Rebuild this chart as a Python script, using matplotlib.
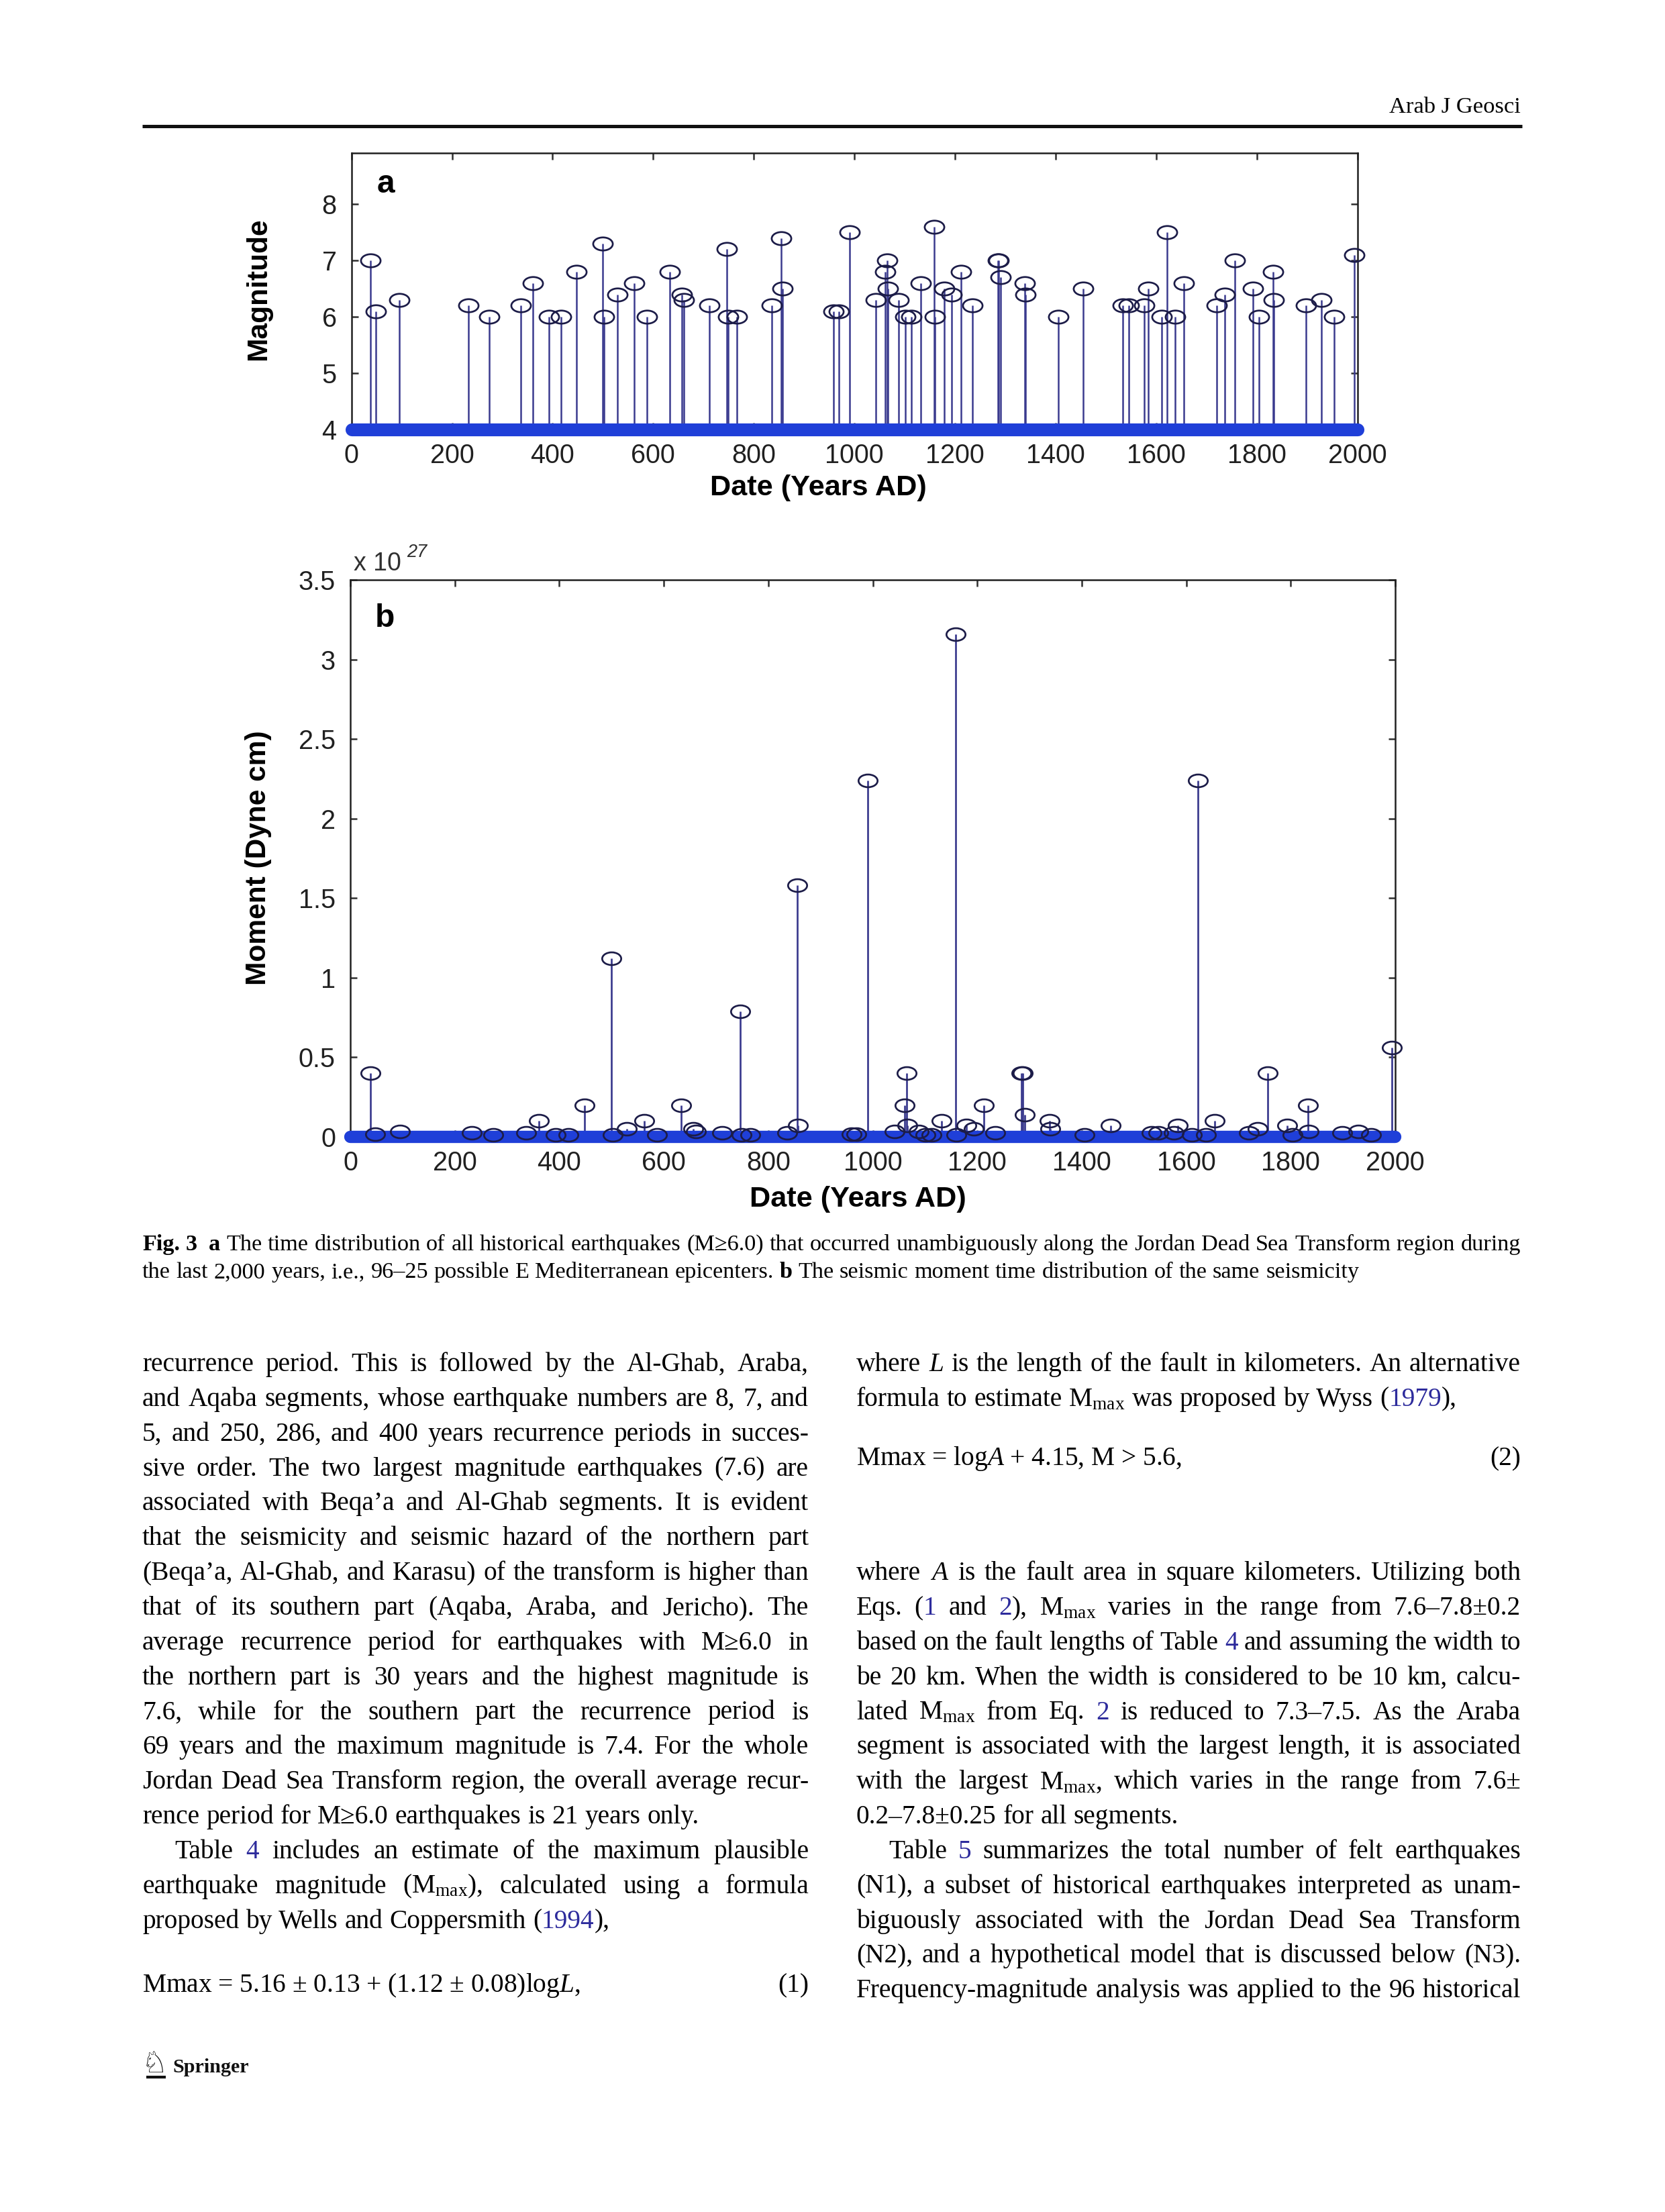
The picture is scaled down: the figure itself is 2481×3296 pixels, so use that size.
import re
import numpy as np
import matplotlib
matplotlib.use('Agg')
import matplotlib.pyplot as plt
from matplotlib.path import Path
from matplotlib.transforms import Affine2D
from matplotlib.lines import Line2D

# ------------------------------------------------------------------ data
# panel a: year of event and its magnitude
event_years = [38, 48, 95, 233, 274, 337, 361, 393, 417, 448, 500, 502, 529, 562,
               587, 633, 657, 661, 712, 746, 749, 766, 836, 855, 857, 959, 969,
               991, 1042, 1061, 1065, 1066, 1088, 1101, 1113, 1132, 1159, 1160,
               1179, 1193, 1212, 1234, 1285, 1287, 1291, 1339, 1340, 1405, 1455,
               1534, 1546, 1576, 1584, 1611, 1622, 1638, 1655, 1720, 1737, 1756,
               1793, 1804, 1833, 1834, 1898, 1929, 1954, 1994]
event_mags = [7.0, 6.1, 6.3, 6.2, 6.0, 6.2, 6.6, 6.0, 6.0, 6.8, 7.3, 6.0, 6.4, 6.6,
              6.0, 6.8, 6.4, 6.3, 6.2, 7.2, 6.0, 6.0, 6.2, 7.4, 6.5, 6.1, 6.1,
              7.5, 6.3, 6.8, 7.0, 6.5, 6.3, 6.0, 6.0, 6.6, 7.6, 6.0,
              6.5, 6.4, 6.8, 6.2, 7.0, 7.0, 6.7, 6.6, 6.4, 6.0, 6.5,
              6.2, 6.2, 6.2, 6.5, 6.0, 7.5, 6.0, 6.6, 6.2, 6.4, 7.0,
              6.5, 6.0, 6.8, 6.3, 6.2, 6.3, 6.0, 7.1]
# panel b: seismic moment of the same events (x 10^27 dyne cm)
event_moments = [0.40, 0.018, 0.035, 0.025, 0.013, 0.025, 0.10, 0.013, 0.013, 0.20, 1.12, 0.013, 0.05, 0.10,
                 0.013, 0.20, 0.05, 0.035, 0.025, 0.79, 0.013, 0.013, 0.025, 1.58, 0.07, 0.018, 0.018,
                 2.24, 0.035, 0.20, 0.40, 0.07, 0.035, 0.013, 0.013, 0.10, 3.16, 0.013,
                 0.07, 0.05, 0.20, 0.025, 0.40, 0.40, 0.14, 0.10, 0.05, 0.013, 0.07,
                 0.025, 0.025, 0.025, 0.07, 0.013, 2.24, 0.013, 0.10, 0.025, 0.05, 0.40,
                 0.07, 0.013, 0.20, 0.035, 0.025, 0.035, 0.013, 0.56]
record_span = [0, 2000]
x_ticks = [0, 200, 400, 600, 800, 1000, 1200, 1400, 1600, 1800, 2000]
a_yticks = [4, 5, 6, 7, 8]
a_ylim = [4, 8.91]
b_yticks = [0, 0.5, 1, 1.5, 2, 2.5, 3, 3.5]
b_yticklabels = ['0', '0.5', '1', '1.5', '2', '2.5', '3', '3.5']
b_ylim = [0, 3.5]

header_text = "Arab J Geosci"
caption_lines = [
    "{b:Fig.} {b:3}  {b:a} The time distribution of all historical earthquakes (M≥6.0) that occurred unambiguously along the Jordan Dead Sea Transform region during",
    "the last 2,000 years, i.e., 96–25 possible E Mediterranean epicenters. {b:b} The seismic moment time distribution of the same seismicity",
]
MM = r"$\mathrm{M}_{\mathrm{max}}$"
left_col = [
    ("recurrence period. This is followed by the Al-Ghab, Araba,", True, False),
    ("and Aqaba segments, whose earthquake numbers are 8, 7, and", True, False),
    ("5, and 250, 286, and 400 years recurrence periods in succes-", True, False),
    ("sive order. The two largest magnitude earthquakes (7.6) are", True, False),
    ("associated with Beqa’a and Al-Ghab segments. It is evident", True, False),
    ("that the seismicity and seismic hazard of the northern part", True, False),
    ("(Beqa’a, Al-Ghab, and Karasu) of the transform is higher than", True, False),
    ("that of its southern part (Aqaba, Araba, and Jericho). The", True, False),
    ("average recurrence period for earthquakes with M≥6.0 in", True, False),
    ("the northern part is 30 years and the highest magnitude is", True, False),
    ("7.6, while for the southern part the recurrence period is", True, False),
    ("69 years and the maximum magnitude is 7.4. For the whole", True, False),
    ("Jordan Dead Sea Transform region, the overall average recur-", True, False),
    ("rence period for M≥6.0 earthquakes is 21 years only.", False, False),
    ("Table {c:4} includes an estimate of the maximum plausible", True, True),
    ("earthquake magnitude (" + MM + "), calculated using a formula", True, False),
    ("proposed by Wells and Coppersmith ({c:1994}),", False, False),
]
right_col_top = [
    ("where $L$ is the length of the fault in kilometers. An alternative", True, False),
    ("formula to estimate " + MM + " was proposed by Wyss ({c:1979}),", False, False),
]
right_col_bottom = [
    ("where $A$ is the fault area in square kilometers. Utilizing both", True, False),
    ("Eqs. ({c:1} and {c:2}), " + MM + " varies in the range from 7.6–7.8±0.2", True, False),
    ("based on the fault lengths of Table {c:4} and assuming the width to", True, False),
    ("be 20 km. When the width is considered to be 10 km, calcu-", True, False),
    ("lated " + MM + " from Eq. {c:2} is reduced to 7.3–7.5. As the Araba", True, False),
    ("segment is associated with the largest length, it is associated", True, False),
    ("with the largest " + MM + ", which varies in the range from 7.6±", True, False),
    ("0.2–7.8±0.25 for all segments.", False, False),
    ("Table {c:5} summarizes the total number of felt earthquakes", True, True),
    ("(N1), a subset of historical earthquakes interpreted as unam-", True, False),
    ("biguously associated with the Jordan Dead Sea Transform", True, False),
    ("(N2), and a hypothetical model that is discussed below (N3).", True, False),
    ("Frequency-magnitude analysis was applied to the 96 historical", True, False),
]
eq1 = ("Mmax = 5.16 ± 0.13 + (1.12 ± 0.08)log$L$,", "(1)")
eq2 = ("Mmax = log$A$ + 4.15, M > 5.6,", "(2)")

# ------------------------------------------------------------------ style
W, H = 2481, 3296
DPI = 300
STEM = '#3a3a8e'
BAND = '#1f3fd8'
MK = '#1c1c48'
LINK = '#2d2b9c'
SERIF = 'Liberation Serif'
SANS = 'Liberation Sans'

plt.rcParams['mathtext.fontset'] = 'custom'
plt.rcParams['mathtext.rm'] = 'Liberation Serif'
plt.rcParams['mathtext.it'] = 'Liberation Serif:italic'
plt.rcParams['mathtext.bf'] = 'Liberation Serif:bold'

fig = plt.figure(figsize=(W / DPI, H / DPI), dpi=DPI)
fig.patch.set_facecolor('white')
renderer = fig.canvas.get_renderer()


def fx(x):
    return x / W


def fy(y):
    return 1 - y / H


def style_kw(st):
    if st == 'b':
        return {'weight': 'bold', 'color': 'black'}
    if st == 'c':
        return {'color': LINK}
    return {'color': 'black'}


def measure(s, size, family, st='n'):
    if not s:
        return 0.0
    t = fig.text(0, 0, s, fontsize=size, family=family, **style_kw(st))
    w = t.get_window_extent(renderer).width
    t.remove()
    return w


SEG_RE = re.compile(r'(\{[bc]:[^}]*\})')


def parse_word(w):
    segs = []
    for part in SEG_RE.split(w):
        if not part:
            continue
        m = re.fullmatch(r'\{([bc]):([^}]*)\}', part)
        if m:
            segs.append((m.group(2), m.group(1)))
        else:
            segs.append((part, 'n'))
    return segs


def draw_line(text, x0, x1, y, size, family=SERIF, justify=True, indent=0.0):
    words = text.split(' ')
    parsed = [parse_word(w) for w in words]
    widths = [[measure(s, size, family, st) for s, st in p] for p in parsed]
    total = sum(sum(ws) for ws in widths)
    space = measure('a a', size, family) - measure('aa', size, family)
    xs = x0 + indent
    n = len(words)
    gap = (x1 - xs - total) / (n - 1) if (justify and n > 1) else space
    x = xs
    for p, ws in zip(parsed, widths):
        for (s, st), w in zip(p, ws):
            fig.text(fx(x), fy(y), s, ha='left', va='baseline', fontsize=size,
                     family=family, **style_kw(st))
            x += w
        x += gap


# ------------------------------------------------------------------ header
hdr_size = 10 * 195 / measure(header_text, 10, SERIF)
fig.text(fx(2266), fy(168), header_text, ha='right', va='baseline',
         fontsize=hdr_size, family=SERIF)
fig.add_artist(Line2D([fx(212), fx(2268)], [fy(187.5), fy(187.5)],
                      lw=1.2, color='#111111', solid_capstyle='butt'))

# ------------------------------------------------------------------ panels
ell = Path.unit_circle().transformed(Affine2D().scale(1.5, 1.0))


def make_axes(l, r, t, b):
    return fig.add_axes([fx(l), fy(b), (r - l) / W, (b - t) / H])


def style_axes(ax):
    for sp in ax.spines.values():
        sp.set_linewidth(0.6)
        sp.set_color('#202020')
        sp.set_zorder(2.5)
    ax.tick_params(which='both', direction='in', top=True, right=True,
                   length=2.4, width=0.6, color='#303030',
                   labelsize=9.5, labelcolor='#202020')
    ax.tick_params(axis='x', pad=4.8)
    ax.tick_params(axis='y', pad=5.3)
    for lab in ax.get_xticklabels() + ax.get_yticklabels():
        lab.set_family(SANS)


# panel a
axA = make_axes(523.7, 2022.6, 228, 640)
base_a = a_ylim[0]
axA.vlines(event_years, base_a, event_mags, colors=STEM, lw=0.6, zorder=2)
axA.plot(record_span, [base_a, base_a], color=BAND, lw=4.6,
         solid_capstyle='round', clip_on=False, zorder=3)
axA.plot(event_years, event_mags, ls='none', marker=ell, ms=7.0,
         mfc='none', mec=MK, mew=0.65, zorder=4, clip_on=False)
axA.set_xlim(record_span)
axA.set_ylim(a_ylim)
axA.set_xticks(x_ticks)
axA.set_yticks(a_yticks)
style_axes(axA)
axA.set_xlabel('Date (Years AD)', fontsize=10.4, weight='bold', family=SANS)
axA.xaxis.set_label_coords(0.464, -0.211)
axA.xaxis.label.set_va('center')
axA.set_ylabel('Magnitude', fontsize=10.2, weight='bold', family=SANS)
axA.yaxis.set_label_coords(-0.0925, 0.507)
axA.yaxis.label.set_va('center')
axA.text(0.034, 0.886, 'a', transform=axA.transAxes, ha='center', va='center',
         fontsize=11.5, weight='bold', family=SANS)

# panel b
axB = make_axes(522, 2079, 864, 1694)
axB.vlines(event_years, 0, event_moments, colors=STEM, lw=0.65, zorder=2)
axB.plot(record_span, [0, 0], color=BAND, lw=4.4,
         solid_capstyle='round', clip_on=False, zorder=3)
axB.plot(event_years, event_moments, ls='none', marker=ell, ms=6.8,
         mfc='none', mec=MK, mew=0.65, zorder=4, clip_on=False)
axB.set_xlim(record_span)
axB.set_ylim(b_ylim)
axB.set_xticks(x_ticks)
axB.set_yticks(b_yticks)
axB.set_yticklabels(b_yticklabels)
style_axes(axB)
axB.set_xlabel('Date (Years AD)', fontsize=10.4, weight='bold', family=SANS)
axB.xaxis.set_label_coords(0.4856, -0.112)
axB.xaxis.label.set_va('center')
axB.set_ylabel('Moment (Dyne cm)', fontsize=10.2, weight='bold', family=SANS)
axB.yaxis.set_label_coords(-0.088, 0.501)
axB.yaxis.label.set_va('center')
axB.text(0.033, 0.931, 'b', transform=axB.transAxes, ha='center', va='center',
         fontsize=11.5, weight='bold', family=SANS)
fig.text(fx(527), fy(850), 'x 10', ha='left', va='baseline', fontsize=9,
         family=SANS, color='#303030')
fig.text(fx(606), fy(830), '27', ha='left', va='baseline', fontsize=6.5,
         family=SANS, color='#303030', style='italic')

# ------------------------------------------------------------------ caption
cap_plain = re.sub(r'\{[bc]:([^}]*)\}', r'\1', caption_lines[1])
cap_size = 10 * 1814 / measure(cap_plain, 10, SERIF)
draw_line(caption_lines[0], 212, 2266, 1863, cap_size, justify=True)
draw_line(caption_lines[1], 212, 2266, 1904, cap_size, justify=False)

# ------------------------------------------------------------------ body text
body_size = 10 * 830 / measure("rence period for M≥6.0 earthquakes is 21 years only.", 10, SERIF)
LEAD = 51.85
BASE0 = 2043
INDENT = 48
LX0, LX1 = 212, 1205
RX0, RX1 = 1276, 2266
for i, (txt, just, ind) in enumerate(left_col):
    draw_line(txt, LX0, LX1, BASE0 + i * LEAD, body_size, justify=just,
              indent=INDENT if ind else 0)
for i, (txt, just, ind) in enumerate(right_col_top):
    draw_line(txt, RX0, RX1, BASE0 + i * LEAD, body_size, justify=just,
              indent=INDENT if ind else 0)
for i, (txt, just, ind) in enumerate(right_col_bottom):
    draw_line(txt, RX0, RX1, BASE0 + (i + 6) * LEAD, body_size, justify=just,
              indent=INDENT if ind else 0)

fig.text(fx(LX0), fy(2968), eq1[0], ha='left', va='baseline', fontsize=body_size, family=SERIF)
fig.text(fx(LX1), fy(2968), eq1[1], ha='right', va='baseline', fontsize=body_size, family=SERIF)
fig.text(fx(RX0), fy(2183), eq2[0], ha='left', va='baseline', fontsize=body_size, family=SERIF)
fig.text(fx(RX1), fy(2183), eq2[1], ha='right', va='baseline', fontsize=body_size, family=SERIF)

# ------------------------------------------------------------------ Springer logo
fig.text(fx(211), fy(3088), '\u2658', ha='left', va='baseline', fontsize=10.5,
         family='DejaVu Sans', color='#111111')
fig.add_artist(Line2D([fx(218), fx(247)], [fy(3095), fy(3095)], lw=1.0,
                      color='#111111', solid_capstyle='butt'))
spr_size = 10 * 114 / measure('Springer', 10, SERIF, 'b')
fig.text(fx(257), fy(3088), 'Springer', ha='left', va='baseline',
         fontsize=spr_size, family=SERIF, weight='bold', color='#111111')

fig.savefig('out.png', dpi=DPI, facecolor='white')
